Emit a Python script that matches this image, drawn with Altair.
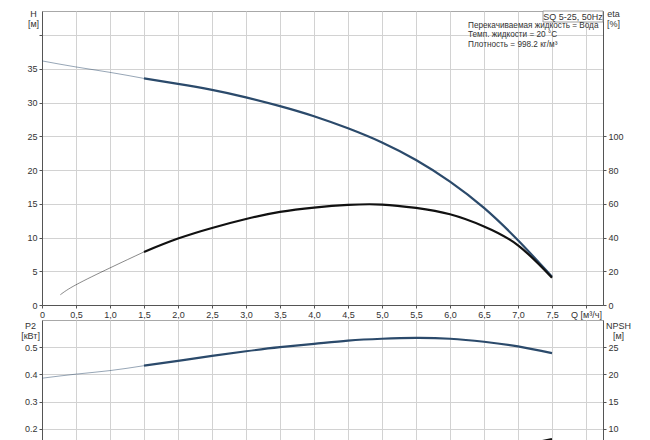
import altair as alt
import pandas as pd

# Pump curve SQ 5-25, 50Hz
Q = [0.0, 0.5, 1.0, 1.5, 2.0, 2.5, 3.0, 3.5, 4.0, 4.5, 5.0, 5.5, 6.0, 6.5, 7.0, 7.5]
H = [36.2, 35.3, 34.5, 33.6, 32.8, 31.9, 30.8, 29.5, 28.0, 26.2, 24.1, 21.5, 18.3, 14.4, 9.6, 4.2]
P2 = [0.386, 0.401, 0.414, 0.432, 0.45, 0.468, 0.485, 0.5, 0.512, 0.524,
      0.531, 0.534, 0.531, 0.52, 0.503, 0.478]

ETA_Q = [0.27, 0.5, 1.0, 1.5, 2.0, 2.5, 3.0, 3.5, 4.0, 4.5, 5.0, 5.5, 6.0, 6.5, 7.0, 7.5]
ETA = [6.1, 12.0, 22.0, 31.5, 39.4, 45.7, 51.0, 55.2, 57.8, 59.4, 59.6, 57.6, 53.8, 46.6, 35.4, 16.2]

NPSH_Q = [6.5, 7.0, 7.5]
NPSH = [5.5, 6.8, 8.1]

X_TICKS = [0, 0.5, 1.0, 1.5, 2.0, 2.5, 3.0, 3.5, 4.0, 4.5, 5.0, 5.5, 6.0, 6.5, 7.0, 7.5, 8.0]
X_LABELS = ["0", "0,5", "1,0", "1,5", "2,0", "2,5", "3,0", "3,5", "4,0", "4,5",
            "5,0", "5,5", "6,0", "6,5", "7,0", "7,5", "Q [м³/ч]"]
H_TICKS = [0, 5, 10, 15, 20, 25, 30, 35, 40]
ETA_TICKS = [0, 20, 40, 60, 80, 100]
P2_TICKS = [0.2, 0.3, 0.4, 0.5]
NPSH_TICKS = [10, 15, 20, 25]

MODEL = "SQ 5-25, 50Hz"
INFO = ["Перекачиваемая жидкость = Вода", "Темп. жидкости = 20 °C", "Плотность = 998.2 кг/м³"]

FONT = "Liberation Sans"
BLUE = "#2b4a6b"
BLACK = "#111111"
W = 561


def curve(qs, vals, start=1.5):
    # thin part before start of the recommended range, thick after
    rows = []
    for q, v in zip(qs, vals):
        if q <= start:
            rows.append({"q": q, "v": v, "part": "thin"})
        if q >= start:
            rows.append({"q": q, "v": v, "part": "thick"})
    return pd.DataFrame(rows)


label_expr = " : ".join(
    f"datum.value == {t} ? '{l}'" for t, l in zip(X_TICKS, X_LABELS)
) + " : ''"

x_scale = alt.Scale(domain=[0, 8.25], nice=False, zero=False)
sw = alt.StrokeWidth("part:N", scale=alt.Scale(domain=["thin", "thick"], range=[0.9, 2.2]), legend=None)
so = alt.StrokeOpacity("part:N", scale=alt.Scale(domain=["thin", "thick"], range=[0.55, 1.0]), legend=None)

axis_common = dict(labelFont=FONT, labelFontSize=9, labelColor="#333", titleFont=FONT,
                   titleFontSize=9, titleColor="#333", titleFontWeight="normal",
                   domainColor="#555", tickColor="#555", tickSize=3, labelPadding=2,
                   labelFlush=False, labelOverlap=False, titleAngle=0, titleBaseline="top",
                   titleAlign="center", titleLineHeight=10, gridColor="#d2d2d2")

x_top = alt.X("q:Q", scale=x_scale, axis=alt.Axis(values=X_TICKS, labelExpr=label_expr, title=None,
                                                  grid=True, **axis_common))
x_bottom = alt.X("q:Q", scale=x_scale, axis=alt.Axis(values=X_TICKS, labels=False, ticks=False,
                                                     domain=False, title=None, grid=True, **axis_common))

# --- top panel: H and eta
h_scale = alt.Scale(domain=[0, 43.6], nice=False, zero=False)
eta_scale = alt.Scale(domain=[0, 174.4], nice=False, zero=False)

h_axis = alt.Axis(values=H_TICKS, labelExpr="datum.value == 40 ? '' : datum.label",
                  title=["H", "[м]"], titleX=-9, titleY=-2, grid=True, **axis_common)
eta_axis = alt.Axis(values=ETA_TICKS, title=["eta", "[%]"], titleX=10, titleY=-2, grid=False,
                    orient="right", **axis_common)

h_line = alt.Chart(curve(Q, H)).mark_line(color=BLUE, clip=True, interpolate="natural").encode(
    x=x_top, y=alt.Y("v:Q", scale=h_scale, axis=h_axis), strokeWidth=sw, strokeOpacity=so)
eta_line = alt.Chart(curve(ETA_Q, ETA)).mark_line(color=BLACK, clip=True, interpolate="natural").encode(
    x=x_top, y=alt.Y("v:Q", scale=eta_scale, axis=eta_axis), strokeWidth=sw, strokeOpacity=so)

one = pd.DataFrame({"a": [0]})
box = alt.Chart(one).mark_rect(fill="white", stroke="#888", strokeWidth=0.8).encode(
    x=alt.value(501), x2=alt.value(W), y=alt.value(0), y2=alt.value(11))
model_txt = alt.Chart(one).mark_text(text=MODEL, font=FONT, fontSize=9, color="#333",
                                     align="center", baseline="middle").encode(
    x=alt.value(531), y=alt.value(5.5))
info_txt = alt.Chart(one).mark_text(text=INFO, font=FONT, fontSize=8.2, color="#333", align="left",
                                    baseline="middle", lineHeight=9.4).encode(
    x=alt.value(426), y=alt.value(15))

top = alt.layer(h_line, eta_line).resolve_scale(y="independent", strokeWidth="shared")
top = alt.layer(top, box, model_txt, info_txt).properties(width=W, height=294)

# --- bottom panel: P2 and NPSH
p2_scale = alt.Scale(domain=[0.1, 0.6], nice=False, zero=False)
npsh_scale = alt.Scale(domain=[5, 30], nice=False, zero=False)

p2_axis = alt.Axis(values=P2_TICKS, format=".1f", title=["P2", "[кВт]"], titleX=-12, titleY=1,
                   grid=True, **axis_common)
npsh_axis = alt.Axis(values=NPSH_TICKS, title=["NPSH", "[м]"], titleX=15, titleY=1, grid=False,
                     orient="right", **axis_common)

p2_line = alt.Chart(curve(Q, P2)).mark_line(color=BLUE, clip=True, interpolate="natural").encode(
    x=x_bottom, y=alt.Y("v:Q", scale=p2_scale, axis=p2_axis), strokeWidth=sw, strokeOpacity=so)
npsh_line = alt.Chart(curve(NPSH_Q, NPSH)).mark_line(color=BLACK, clip=True, interpolate="natural").encode(
    x=x_bottom, y=alt.Y("v:Q", scale=npsh_scale, axis=npsh_axis), strokeWidth=sw, strokeOpacity=so)

bottom = alt.layer(p2_line, npsh_line).resolve_scale(y="independent").properties(width=W, height=136)

chart = (
    alt.vconcat(top, bottom, spacing=15, bounds="flush")
    .properties(padding={"left": 12, "top": 0, "right": 5, "bottom": 0})
    .configure_view(stroke="#a8a8a8", strokeWidth=1)
    .configure_concat(spacing=15)
)

chart.save("out.html", embed_options={"renderer": "svg", "actions": False})
